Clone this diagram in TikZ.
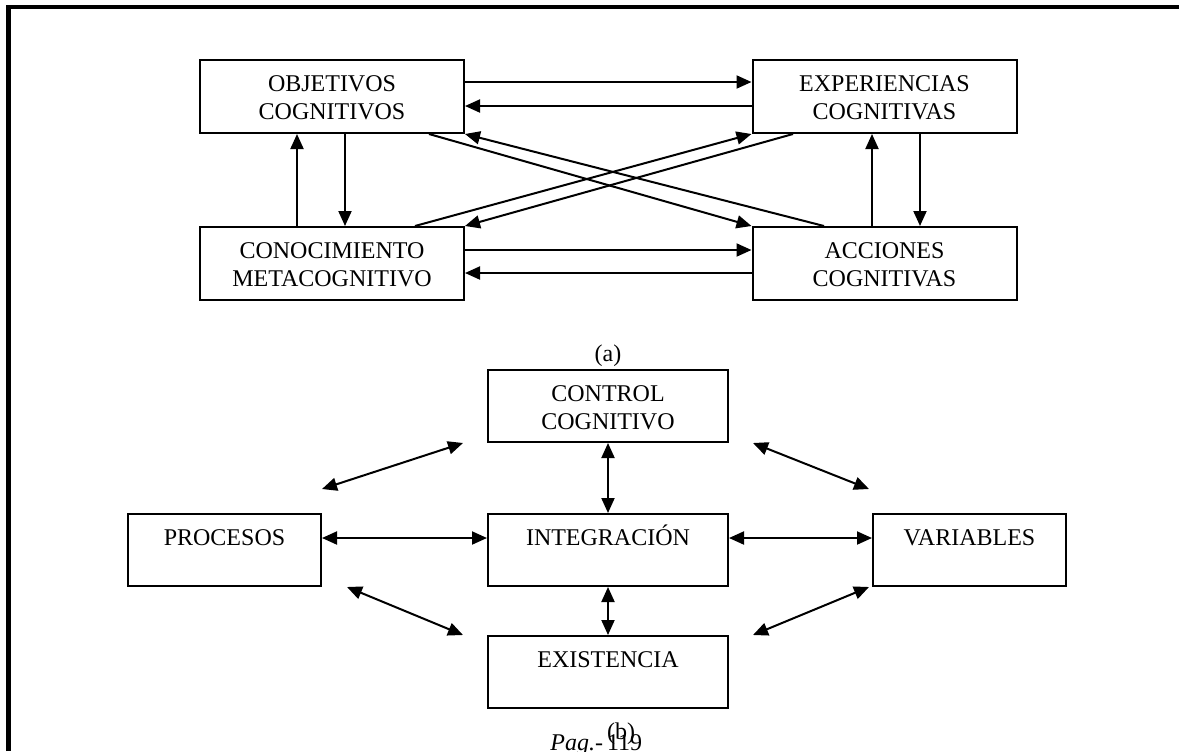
\documentclass[tikz,border=0pt]{standalone}
\usepackage{fontspec}
\setmainfont{Liberation Serif}
\usetikzlibrary{arrows.meta}
% two centred lines whose baseline is that of the first line
\newcommand{\twolines}[2]{\vtop{\halign{\hfil##\hfil\cr #1\cr #2\cr}}}
\begin{document}
\begin{tikzpicture}[x=0.5pt,y=-0.5pt,
  every node/.style={font=\fontsize{12}{14}\selectfont},
  abox/.style={draw, line width=1pt, inner sep=0pt, minimum width=132pt, minimum height=36.5pt},
  bbox/.style={draw, line width=1pt, inner sep=0pt, minimum width=120pt, minimum height=36pt},
  sbox/.style={draw, line width=1pt, inner sep=0pt, minimum width=96.5pt, minimum height=36pt},
  lbl/.style={anchor=base, inner sep=0pt},
  tip/.tip={Triangle[length=7.5pt,width=6.5pt]},
  arr/.style={line width=1pt, -tip},
  darr/.style={line width=1pt, tip-tip}
]
\useasboundingbox (0,0) rectangle (1179,751);

% page frame
\draw[line width=2.4pt] (8.5,751) -- (8.5,7) -- (1179,7);

% ---------- (a) ----------
\node[abox] (obj) at (332,96.5) {};
\node[abox] (exp) at (884.5,96.5) {};
\node[abox] (con) at (332,263.5) {};
\node[abox] (acc) at (884.5,263.5) {};

\node[lbl] at ([yshift=-16.25pt]obj.north) {\twolines{OBJETIVOS}{COGNITIVOS}};
\node[lbl] at ([yshift=-16.25pt]exp.north) {\twolines{EXPERIENCIAS}{COGNITIVAS}};
\node[lbl] at ([yshift=-16.25pt]con.north) {\twolines{CONOCIMIENTO}{METACOGNITIVO}};
\node[lbl] at ([yshift=-16.25pt]acc.north) {\twolines{ACCIONES}{COGNITIVAS}};

% horizontal pairs
\draw[arr] ([yshift=7.25pt]obj.east) -- ([yshift=7.25pt]obj.east -| exp.west);
\draw[arr] ([yshift=-4.75pt]exp.west) -- ([yshift=-4.75pt]exp.west -| obj.east);
\draw[arr] ([yshift=6.75pt]con.east) -- ([yshift=6.75pt]con.east -| acc.west);
\draw[arr] ([yshift=-4.75pt]acc.west) -- ([yshift=-4.75pt]acc.west -| con.east);

% vertical pairs
\draw[arr] ([xshift=-17.5pt]con.north) -- ([xshift=-17.5pt]con.north |- obj.south);
\draw[arr] ([xshift=6.5pt]obj.south) -- ([xshift=6.5pt]obj.south |- con.north);
\draw[arr] ([xshift=-6.25pt]acc.north) -- ([xshift=-6.25pt]acc.north |- exp.south);
\draw[arr] ([xshift=17.75pt]exp.south) -- ([xshift=17.75pt]exp.south |- acc.north);

% crossing diagonals
\draw[arr] ([xshift=48.5pt]obj.south) -- (acc.north west);
\draw[arr] ([xshift=-30.25pt]acc.north) -- (obj.south east);
\draw[arr] ([xshift=41.5pt]con.north) -- (exp.south west);
\draw[arr] ([xshift=-45.75pt]exp.south) -- (con.north east);

\node[lbl] (capa) at (608,361) {(a)};

% ---------- (b) ----------
\node[bbox] (ctl) at (608,406) {};
\node[bbox] (int) at (608,550) {};
\node[bbox] (exi) at (608,672) {};
\node[sbox] (pro) at (224.5,550) {};
\node[sbox] (var) at (969.5,550) {};

\node[lbl] at ([yshift=-16.25pt]ctl.north) {\twolines{CONTROL}{COGNITIVO}};
\node[lbl] at ([yshift=-16.25pt]int.north) {INTEGRACIÓN};
\node[lbl] at ([yshift=-16.25pt]exi.north) {EXISTENCIA};
\node[lbl] at ([yshift=-16.25pt]pro.north) {PROCESOS};
\node[lbl] at ([yshift=-16.25pt]var.north) {VARIABLES};

\draw[darr] ([yshift=6pt]pro.east) -- ([yshift=6pt]pro.east -| int.west);
\draw[darr] ([yshift=6pt]int.east) -- ([yshift=6pt]int.east -| var.west);
\draw[darr] (ctl.south) -- (int.north);
\draw[darr] (int.south) -- (exi.north);

\draw[darr] ([yshift=12pt]pro.north east) -- ([xshift=-12pt]ctl.south west);
\draw[darr] ([xshift=12.5pt]pro.south east) -- ([xshift=-12pt]exi.north west);
\draw[darr] ([xshift=12pt]ctl.south east) -- ([yshift=12pt,xshift=-1.5pt]var.north west);
\draw[darr] ([xshift=12pt]exi.north east) -- ([xshift=-1.5pt]var.south west);

\node[lbl] (capb) at (621,739) {(b)};
\node[lbl, anchor=base west] (page) at (550,750) {\textit{Pag.-}\,119};
\end{tikzpicture}
\end{document}
